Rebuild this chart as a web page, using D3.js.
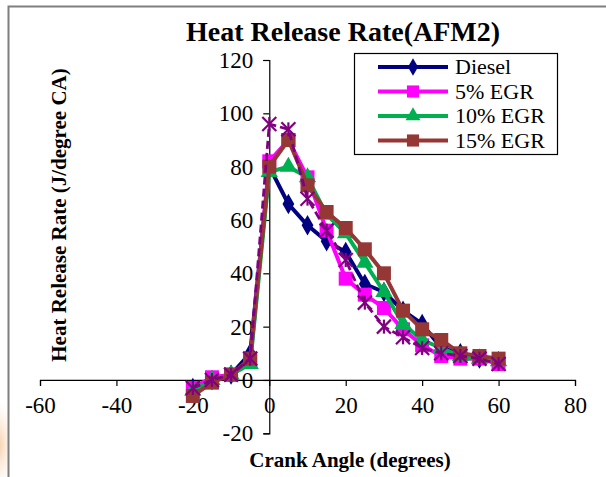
<!DOCTYPE html>
<html><head><meta charset="utf-8">
<script src="https://cdn.jsdelivr.net/npm/d3@7"></script>
<style>body{margin:0;background:#fff}svg{display:block}svg text{font-family:'Liberation Serif','Times New Roman',serif}</style>
</head><body>
<script>
const angles = [-20,-15,-10,-5,0,5,10,15,20,25,30,35,40,45,50,55,60];
const diesel = [-3,0,2,10,80,66,58,52,48,36,33,26,21,12,10,8,7];
const egr5   = [-3,1,2,7,82,90,76,56,38,32,27,19,13,9,8,8,6];
const egr10  = [-4,0,2,6,78,80,76,62,55,44,33,21,15,12,9,8,7];
const egr15  = [-6,-1,2,8,80,90,73,63,57,49,40,26,19,15,10,9,8];
const extra  = [-3,0,2,8,96,94,68,56,45,29,20,16,12,10,9,8,6];
const xTicks = [-60,-40,-20,0,20,40,60,80];
const yTicks = [-20,0,20,40,60,80,100,120];
const seriesNames = ["Diesel","5% EGR","10% EGR","15% EGR"];

const W=606,H=477;
const svg=d3.select("body").append("svg").attr("width",W).attr("height",H);
const defs=svg.append("defs");
const rg=defs.append("radialGradient").attr("id","blob");
rg.append("stop").attr("offset","0%").attr("stop-color","#f5c49a").attr("stop-opacity",0.85);
rg.append("stop").attr("offset","100%").attr("stop-color","#fbe6d4").attr("stop-opacity",0);
svg.append("ellipse").attr("cx",-2).attr("cy",445).attr("rx",18).attr("ry",45).attr("fill","url(#blob)");
svg.append("rect").attr("x",9).attr("y",7).attr("width",W).attr("height",H).attr("fill","#fff");
svg.append("path").attr("d",`M8.5,${H}V6.5H${W}`).attr("fill","none").attr("stroke","#7f7f7f").attr("stroke-width",2);

const x=d3.scaleLinear().domain([-60,80]).range([40,575]);
const y=d3.scaleLinear().domain([-20,120]).range([433.3,60]);
const font="'Liberation Serif','Times New Roman',serif";

svg.append("text").attr("x",343).attr("y",41).attr("text-anchor","middle")
  .style("font-family",font).attr("font-weight","bold").attr("font-size",28).text("Heat Release Rate(AFM2)");

const fmt=d=>String(d);
const xa=svg.append("g").attr("transform",`translate(0,${y(0)})`)
  .call(d3.axisBottom(x).tickValues(xTicks).tickSize(6).tickPadding(11).tickFormat(fmt));
const ya=svg.append("g").attr("transform",`translate(${x(0)},0)`)
  .call(d3.axisLeft(y).tickValues(yTicks).tickSize(6).tickPadding(10).tickFormat(fmt));
[xa,ya].forEach(a=>{a.attr("font-family",null).attr("font-size",null);
  a.select(".domain").attr("stroke","#000").attr("stroke-width",1.2);
  a.selectAll(".tick line").attr("stroke","#000").attr("stroke-width",1.2);
  a.selectAll("text").style("font-family",font).attr("font-size",23).attr("fill","#000");});
ya.selectAll("text").attr("x",-16);

svg.append("text").attr("x",350).attr("y",467).attr("text-anchor","middle")
  .style("font-family",font).attr("font-weight","bold").attr("font-size",21).text("Crank Angle (degrees)");
svg.append("text").attr("transform","translate(66,215) rotate(-90)").attr("text-anchor","middle")
  .style("font-family",font).attr("font-weight","bold").attr("font-size",21).text("Heat Release Rate (J/degree CA)");

const symType=m=>m==="diamond"?d3.symbolDiamond:m==="square"?d3.symbolSquare:d3.symbolTriangle;
const series=[
 {name:seriesNames[0],vals:diesel,color:"#000080",m:"diamond",ms:120},
 {name:seriesNames[1],vals:egr5,color:"#ff00ff",m:"square",ms:196},
 {name:seriesNames[2],vals:egr10,color:"#00b050",m:"triangle",ms:130},
 {name:seriesNames[3],vals:egr15,color:"#953735",m:"square",ms:196},
 {name:null,vals:extra,color:"#800080",m:"star",ms:0,dash:"8,4"}
];
const line=d3.line().x(d=>x(d[0])).y(d=>y(d[1]));
series.forEach(s=>{
  const pts=angles.map((a,i)=>[a,s.vals[i]]);
  const g=svg.append("g");
  g.append("path").attr("d",line(pts)).attr("fill","none").attr("stroke",s.color)
   .attr("stroke-width",s.dash?2.8:4).attr("stroke-dasharray",s.dash||null).attr("stroke-linejoin","round");
  pts.forEach(p=>{
    const cx=x(p[0]),cy=y(p[1]);
    if(s.m==="star"){
      const r=7;
      const gg=g.append("g").attr("stroke",s.color).attr("stroke-width",2.2);
      gg.append("line").attr("x1",cx-r).attr("x2",cx+r).attr("y1",cy-r).attr("y2",cy+r);
      gg.append("line").attr("x1",cx-r).attr("x2",cx+r).attr("y1",cy+r).attr("y2",cy-r);
      gg.append("line").attr("x1",cx).attr("x2",cx).attr("y1",cy-r).attr("y2",cy+r);
    } else {
      g.append("path").attr("d",d3.symbol().type(symType(s.m)).size(s.ms)())
       .attr("transform",`translate(${cx},${cy})`).attr("fill",s.color);
    }
  });
});

// legend
const lg=svg.append("g");
lg.append("rect").attr("x",354.5).attr("y",53.5).attr("width",203).attr("height",101).attr("fill","#fff").attr("stroke","#000").attr("stroke-width",1.2);
series.filter(s=>s.name).forEach((s,i)=>{
  const yy=67+i*24.5;
  lg.append("line").attr("x1",378).attr("x2",448).attr("y1",yy).attr("y2",yy).attr("stroke",s.color).attr("stroke-width",4);
  lg.append("path").attr("d",d3.symbol().type(symType(s.m)).size(s.ms*0.75)())
    .attr("transform",`translate(413,${yy})`).attr("fill",s.color);
  lg.append("text").attr("x",455).attr("y",yy+7).style("font-family",font).attr("font-size",22).text(s.name);
});
</script>
</body></html>
